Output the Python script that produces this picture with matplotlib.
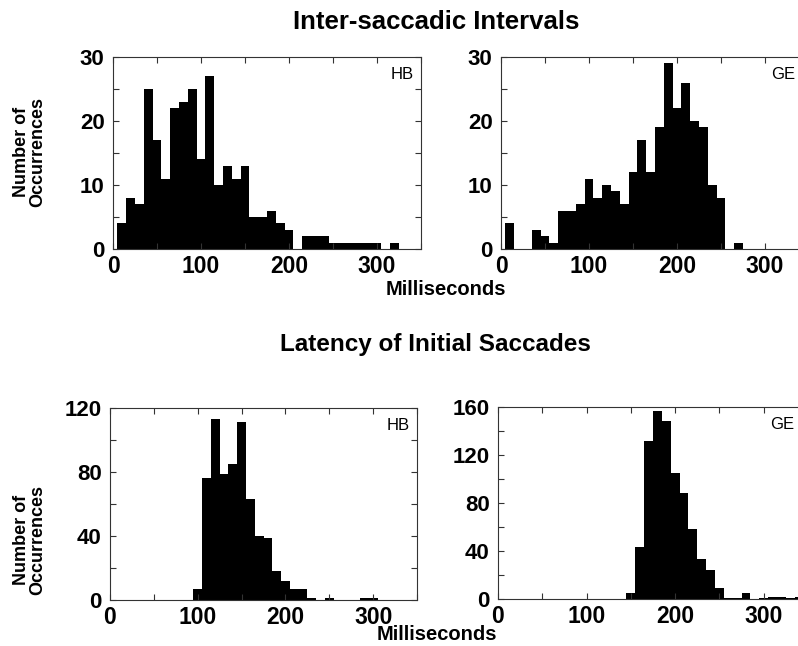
import numpy as np
import matplotlib
matplotlib.use("Agg")
import matplotlib.pyplot as plt
from matplotlib.ticker import MultipleLocator

plt.rcParams['font.family'] = ['Liberation Sans', 'DejaVu Sans']

# 10 ms bins, centred on 10, 20, ... 340 ms
bin_centers = np.arange(10, 350, 10)
bin_edges = np.append(bin_centers - 5, bin_centers[-1] + 5)

# inter-saccadic intervals
isi_hb = [4, 8, 7, 25, 17, 11, 22, 23, 25, 14, 27, 10, 13, 11, 13, 5, 5,
          6, 4, 3, 0, 2, 2, 2, 1, 1, 1, 1, 1, 1, 0, 1, 0, 0]
isi_ge = [4, 0, 0, 3, 2, 1, 6, 6, 7, 11, 8, 10, 9, 7, 12, 17, 12,
          19, 29, 22, 26, 20, 19, 10, 8, 0, 1, 0, 0, 0, 0, 0, 0, 0]

# latency of initial saccades
lat_hb = [0, 0, 0, 0, 0, 0, 0, 0, 0, 7, 76, 113, 79, 85, 111, 63, 40,
          39, 18, 12, 7, 7, 1, 0, 1, 0, 0, 0, 1, 1, 0, 0, 0, 0]
lat_ge = [0, 0, 0, 0, 0, 0, 0, 0, 0, 0, 0, 0, 0, 0, 5, 43, 132,
          157, 148, 105, 88, 58, 33, 24, 9, 1, 1, 5, 0, 1, 2, 2, 1, 2]

W, H = 798, 646
fig = plt.figure(figsize=(W / 100, H / 100), dpi=100)


def px_axes(left, top, width, height):
    return fig.add_axes([left / W, 1 - (top + height) / H, width / W, height / H])


def histo(ax, counts, ymax, ymajor, yminor, subject, sub_x=0.975):
    # one filled step outline, so neighbouring bins have no seams
    ax.stairs(counts, bin_edges, fill=True, color='black', linewidth=0)
    ax.set_xlim(0, 350)
    ax.set_ylim(0, ymax)
    ax.xaxis.set_major_locator(MultipleLocator(100))
    ax.xaxis.set_minor_locator(MultipleLocator(50))
    ax.yaxis.set_major_locator(MultipleLocator(ymajor))
    ax.yaxis.set_minor_locator(MultipleLocator(yminor))
    ax.tick_params(which='both', direction='in', top=True, right=True,
                   width=0.8, color='#333333')
    ax.tick_params(which='major', length=4)
    ax.tick_params(which='minor', length=4)
    ax.tick_params(axis='x', labelsize=16.5, pad=4)
    ax.tick_params(axis='y', labelsize=16, pad=6)
    for lbl in ax.get_xticklabels() + ax.get_yticklabels():
        lbl.set_fontweight('bold')
    for sp in ax.spines.values():
        sp.set_linewidth(0.8)
        sp.set_color('#333333')
    ax.text(sub_x, 0.95, subject, transform=ax.transAxes, ha='right',
            va='top', fontsize=12)


ax1 = px_axes(113, 57, 308, 192)
histo(ax1, isi_hb, 30, 10, 5, 'HB')
ax2 = px_axes(501, 57, 308, 192)
histo(ax2, isi_ge, 30, 10, 5, 'GE', sub_x=0.955)
ax3 = px_axes(110, 408, 307, 192)
histo(ax3, lat_hb, 120, 40, 20, 'HB')
ax4 = px_axes(498, 407, 310, 192)
histo(ax4, lat_ge, 160, 40, 20, 'GE', sub_x=0.955)

# section titles and shared axis labels
fig.text(436 / W, 1 - 22 / H, 'Inter-saccadic Intervals', ha='center',
         va='center', fontsize=18.5, fontweight='bold')
fig.text(435 / W, 1 - 345 / H, 'Latency of Initial Saccades', ha='center',
         va='center', fontsize=17.5, fontweight='bold')
fig.text(446 / W, 1 - 289 / H, 'Milliseconds', ha='center', va='center',
         fontsize=14.5, fontweight='bold')
fig.text(437 / W, 1 - 634 / H, 'Milliseconds', ha='center', va='center',
         fontsize=14.5, fontweight='bold')
for yc in (152, 540):
    fig.text(30 / W, 1 - yc / H, 'Number of\nOccurrences', ha='center',
             va='center', rotation=90, fontsize=13, fontweight='bold',
             linespacing=0.95)

fig.savefig('out.png', dpi=100)
